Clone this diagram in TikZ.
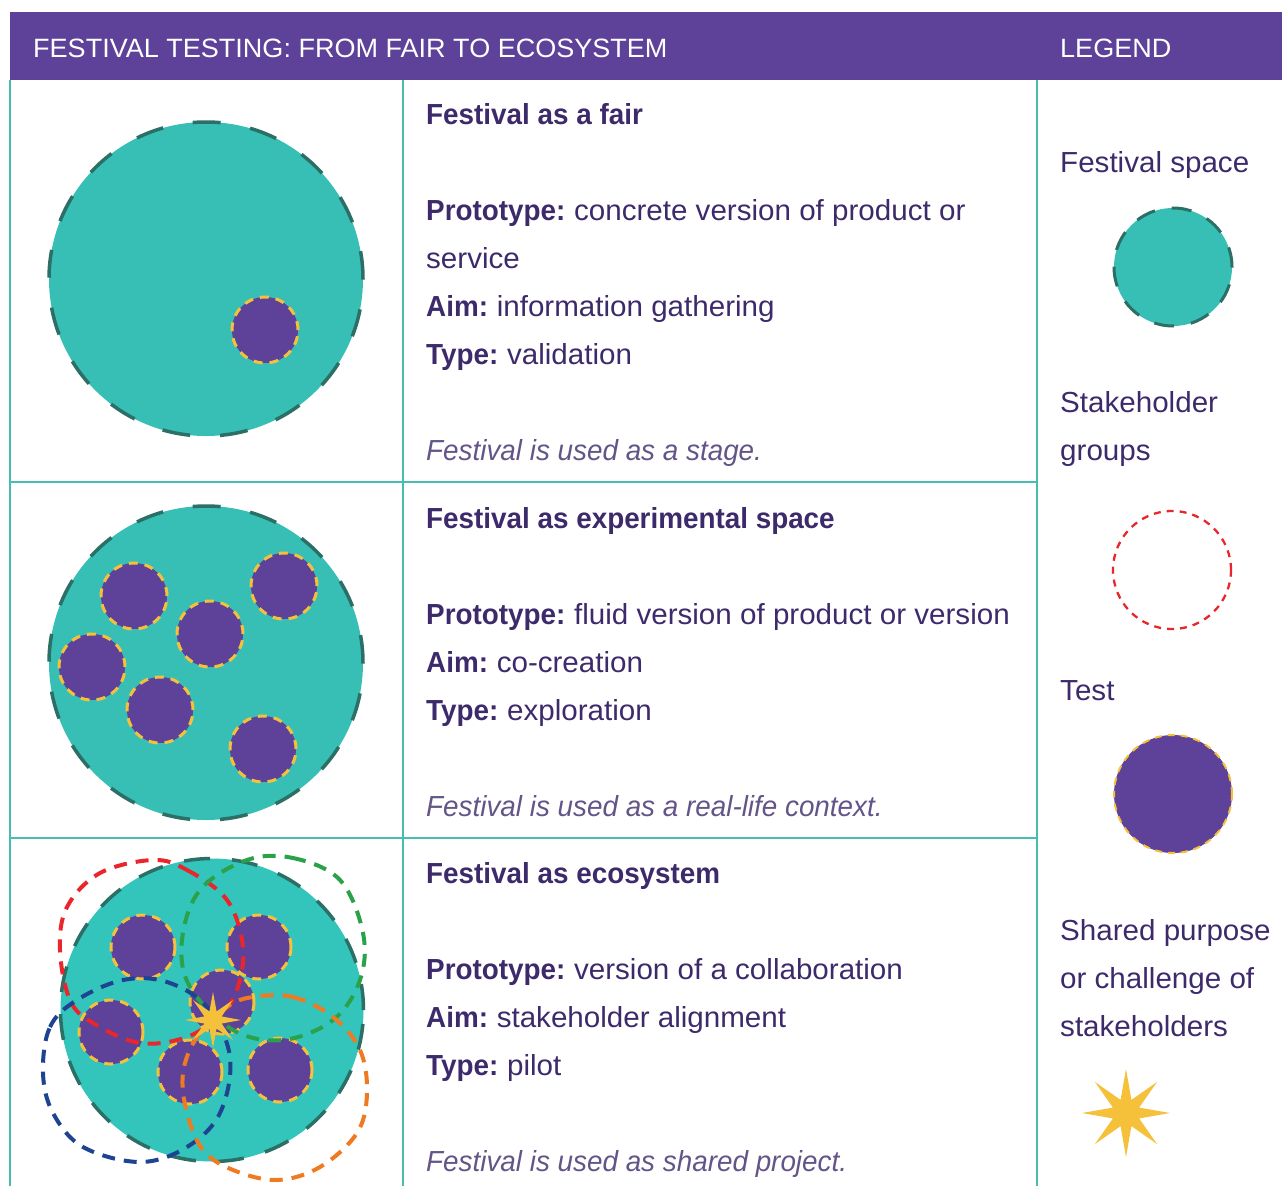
\documentclass[tikz,border=0pt]{standalone}
\usepackage{fontspec}
\setmainfont{Liberation Sans}[FakeStretch=1.02, BoldFeatures={FakeStretch=0.96}, ItalicFeatures={FakeStretch=0.96}]
\usetikzlibrary{shapes.geometric}
\definecolor{hdr}{HTML}{5E4199}
\definecolor{grid}{HTML}{45BDB1}
\definecolor{tealf}{HTML}{37BFB5}
\definecolor{tealb}{HTML}{2B6F66}
\definecolor{purp}{HTML}{5E4199}
\definecolor{ylw}{HTML}{F5C03A}
\definecolor{txt}{HTML}{3D2A6B}
\definecolor{cred}{HTML}{E8262B}
\definecolor{cgreen}{HTML}{2BA24A}
\definecolor{cblue}{HTML}{1E4391}
\definecolor{corange}{HTML}{F07A22}
\newcommand{\lbl}[1]{\textbf{#1}\hspace{0.3em}}
\tikzset{
  gridline/.style={draw=grid, line width=2.5pt},
  festival/.style={circle, fill=tealf, draw=tealb, line width=3.5pt, dash pattern=on 28pt off 30pt, minimum size=314pt, inner sep=0pt},
  testc/.style={circle, fill=purp, draw=ylw, line width=3pt, dash pattern=on 9pt off 7pt, minimum size=66pt, inner sep=0pt},
  grp/.style={line width=4pt, dash pattern=on 13pt off 9pt},
  body/.style={anchor=base west, inner sep=0pt, text=txt, font=\fontsize{29}{29}\selectfont},
  note/.style={anchor=base west, inner sep=0pt, text=txt!80, font=\fontsize{29}{29}\selectfont\itshape},
  hdrtext/.style={anchor=base west, inner sep=0pt, text=white, font=\fontsize{26.5}{26.5}\selectfont},
  starshape/.style={star, star points=8, fill=ylw, draw=none, inner sep=0pt}
}
\begin{document}
\begin{tikzpicture}[x=1pt,y=-1pt]
\useasboundingbox (0,0) rectangle (1282,1186);
% header
\fill[hdr] (10,12) rectangle (1282,80);
\node[hdrtext] (h1) at (33,57) {FESTIVAL TESTING: FROM FAIR TO ECOSYSTEM};
\node[hdrtext] (h2) at (1060,57) {LEGEND};
% grid
\draw[gridline] (10,80) -- (10,1186);
\draw[gridline] (403,80) -- (403,1186);
\draw[gridline] (1037,80) -- (1037,1186);
\draw[gridline] (10,482) -- (1037,482);
\draw[gridline] (10,838) -- (1037,838);

% row 1
\node[festival] (f1) at (206,279) {};
\node[testc] (t11) at (265,330) {};
\node[body] (r1a) at (426,124) {\textbf{Festival as a fair}};
\node[body] (r1b) at (426,220) {\lbl{Prototype:}concrete version of product or};
\node[body] (r1c) at (426,268) {service};
\node[body] (r1d) at (426,316) {\lbl{Aim:}information gathering};
\node[body] (r1e) at (426,364) {\lbl{Type:}validation};
\node[note] (r1f) at (426,460) {Festival is used as a stage.};

% row 2
\node[festival] (f2) at (206,663) {};
\node[testc] (t21) at (134,596) {};
\node[testc] (t22) at (284,586) {};
\node[testc] (t23) at (210,634) {};
\node[testc] (t24) at (92,667) {};
\node[testc] (t25) at (160,710) {};
\node[testc] (t26) at (263,749) {};
\node[body] (r2a) at (426,528) {\textbf{Festival as experimental space}};
\node[body] (r2b) at (426,624) {\lbl{Prototype:}fluid version of product or version};
\node[body] (r2c) at (426,672) {\lbl{Aim:}co-creation};
\node[body] (r2d) at (426,720) {\lbl{Type:}exploration};
\node[note] (r2e) at (426,816) {Festival is used as a real-life context.};

% row 3
\node[festival, minimum size=303pt, fill=tealf!92!cyan, dash pattern=on 26pt off 22pt] (f3) at (212,1010) {};
\node[testc, minimum size=64pt] (t31) at (143,947) {};
\node[testc, minimum size=64pt] (t32) at (259,947) {};
\node[testc, minimum size=64pt] (t33) at (222,1002) {};
\node[testc, minimum size=64pt] (t34) at (111,1032) {};
\node[testc, minimum size=64pt] (t35) at (190,1072) {};
\node[testc, minimum size=64pt] (t36) at (280,1070) {};
\draw[grp, cred] plot[smooth cycle, tension=0.6] coordinates {(153,860) (187,870) (227,900) (243,947) (237,990) (220,1015) (187,1037) (140,1043) (93,1023) (70,1000) (60,950) (67,907) (100,873)};
\draw[grp, cgreen] plot[smooth cycle, tension=0.6] coordinates {(247,860) (293,858) (340,880) (363,933) (360,980) (333,1020) (283,1040) (233,1030) (190,987) (182,940) (200,890)};
\draw[grp, cblue] plot[smooth cycle, tension=0.6] coordinates {(43,1073) (50,1027) (77,1000) (123,980) (167,982) (207,1007) (230,1057) (220,1113) (187,1147) (140,1162) (83,1147) (53,1113)};
\draw[grp, corange] plot[smooth cycle, tension=0.6] coordinates {(253,997) (293,997) (333,1017) (360,1050) (367,1093) (357,1133) (320,1167) (277,1180) (233,1170) (203,1150) (187,1113) (183,1073) (197,1037) (227,1007)};
\node[starshape, minimum size=56pt, star point ratio=3] (s3) at (213,1020) {};
\node[body] (r3a) at (426,883) {\textbf{Festival as ecosystem}};
\node[body] (r3b) at (426,979) {\lbl{Prototype:}version of a collaboration};
\node[body] (r3c) at (426,1027) {\lbl{Aim:}stakeholder alignment};
\node[body] (r3d) at (426,1075) {\lbl{Type:}pilot};
\node[note] (r3e) at (426,1171) {Festival is used as shared project.};

% legend
\node[body] (l1) at (1060,172) {Festival space};
\node[festival, minimum size=118pt, line width=3pt, dash pattern=on 20pt off 17pt] (lf) at (1173,267) {};
\node[body] (l2) at (1060,412) {Stakeholder};
\node[body] (l3) at (1060,460) {groups};
\node[circle, draw=cred, line width=2.3pt, dash pattern=on 7pt off 6pt, minimum size=118pt, inner sep=0pt] (lg) at (1172,570) {};
\node[body] (l4) at (1060,700) {Test};
\node[testc, minimum size=118pt, line width=2pt, dash pattern=on 7pt off 6pt] (lt) at (1173,794) {};
\node[body] (l5) at (1060,940) {Shared purpose};
\node[body] (l6) at (1060,988) {or challenge of};
\node[body] (l7) at (1060,1036) {stakeholders};
\node[starshape, minimum size=88pt, star point ratio=3.1] (ls) at (1126,1113) {};
\end{tikzpicture}
\end{document}
